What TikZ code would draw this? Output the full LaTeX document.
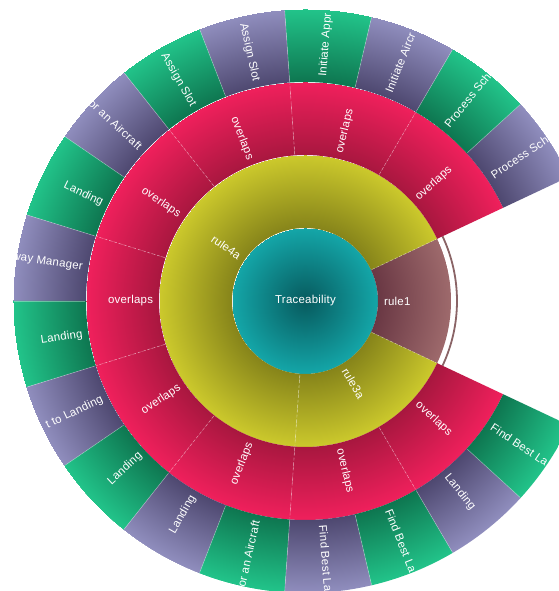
\documentclass[tikz,border=0pt]{standalone}
\usepackage{fontspec}
\setmainfont{Liberation Sans}[LetterSpace=2]
\definecolor{tealD}{HTML}{075A5E}
\definecolor{tealL}{HTML}{14A6A8}
\definecolor{yelD}{HTML}{86841A}
\definecolor{yelL}{HTML}{CCC92C}
\definecolor{brnD}{HTML}{6A3844}
\definecolor{brnL}{HTML}{9E6A6C}
\definecolor{redD}{HTML}{A8173F}
\definecolor{redL}{HTML}{F0205C}
\definecolor{grnD}{HTML}{0E7650}
\definecolor{grnL}{HTML}{22C48A}
\definecolor{purD}{HTML}{4E4870}
\definecolor{purL}{HTML}{908EBE}
\definecolor{arcBrown}{HTML}{8A6466}
\pgfdeclareradialshading{shTeal}{\pgfpointorigin}{color(0bp)=(tealD); color(73bp)=(tealL)}
\pgfdeclareradialshading{shYel}{\pgfpointorigin}{color(0bp)=(yelD); color(73bp)=(yelD); color(146bp)=(yelL)}
\pgfdeclareradialshading{shBrn}{\pgfpointorigin}{color(0bp)=(brnD); color(73bp)=(brnD); color(146bp)=(brnL)}
\pgfdeclareradialshading{shRed}{\pgfpointorigin}{color(0bp)=(redD); color(146bp)=(redD); color(219bp)=(redL)}
\pgfdeclareradialshading{shGrn}{\pgfpointorigin}{color(0bp)=(grnD); color(219bp)=(grnD); color(292bp)=(grnL)}
\pgfdeclareradialshading{shPur}{\pgfpointorigin}{color(0bp)=(purD); color(219bp)=(purD); color(292bp)=(purL)}
\tikzset{
  lab/.style={text=white, font=\fontsize{11.5}{13}\selectfont, inner sep=0pt, outer sep=0pt},
  sepline/.style={white, opacity=0.35, line width=0.6bp},
  sepdash/.style={white, opacity=0.4, line width=0.6bp, dash pattern=on 3bp off 2bp}
}
% #1 node name, #2 shading, #3 start angle, #4 end angle, #5 inner r, #6 outer r, #7 text
\newcommand\sbseg[7]{%
  \begin{scope}
    \clip ([shift={(#3:#6)}]C) arc[start angle=#3,end angle=#4,radius=#6bp]
      -- ([shift={(#4:#5)}]C) arc[start angle=#4,end angle=#3,radius=#5bp] -- cycle;
    \pgftext[at=\pgfpointanchor{C}{center}]{\pgfuseshading{#2}}%
    \pgfmathsetmacro\sbmid{(#3+#4)/2}%
    \pgfmathsetmacro\sbrad{#5+6}%
    \pgfmathtruncatemacro\sbside{cos(\sbmid)>=0}%
    \ifnum\sbside=1
      \node[lab,anchor=west,rotate=\sbmid] (#1) at ([shift={(\sbmid:\sbrad)}]C) {#7};
    \else
      \pgfmathsetmacro\sbrot{\sbmid-180}%
      \node[lab,anchor=east,rotate=\sbrot] (#1) at ([shift={(\sbmid:\sbrad)}]C) {#7};
    \fi
  \end{scope}}
\begin{document}
\begin{tikzpicture}[x=1bp,y=1bp]
\useasboundingbox (0,0) rectangle (559,591);
\fill[white] (0,0) rectangle (559,591);
\coordinate (C) at (305,290);
\begin{scope}
\clip (0,0) rectangle (559,591);
% centre
\begin{scope}
  \clip (C) circle[radius=73bp];
  \pgftext[at=\pgfpointanchor{C}{center}]{\pgfuseshading{shTeal}}
\end{scope}
\node[lab] (trace) at ([xshift=0.5bp]C) {Traceability};
% ring 1
\sbseg{r1}{shBrn}{-25.2}{25.2}{73}{146}{rule1}
\sbseg{r4a}{shYel}{25.2}{266}{73}{146}{rule4a}
\sbseg{r3a}{shYel}{266}{334.8}{73}{146}{rule3a}
\draw[arcBrown, line width=1.8bp] ([shift={(-25.2:152)}]C) arc[start angle=-25.2,end angle=25.2,radius=152bp];
% ring 2
\sbseg{o1}{shRed}{25.2}{59.6}{146}{219}{overlaps}
\sbseg{o2}{shRed}{59.6}{94}{146}{219}{overlaps}
\sbseg{o3}{shRed}{94}{128.4}{146}{219}{overlaps}
\sbseg{o4}{shRed}{128.4}{162.8}{146}{219}{overlaps}
\sbseg{o5}{shRed}{162.8}{197.2}{146}{219}{overlaps}
\sbseg{o6}{shRed}{197.2}{231.6}{146}{219}{overlaps}
\sbseg{o7}{shRed}{231.6}{266}{146}{219}{overlaps}
\sbseg{o8}{shRed}{266}{300.4}{146}{219}{overlaps}
\sbseg{o9}{shRed}{300.4}{334.8}{146}{219}{overlaps}
% ring 3
\sbseg{l1}{shPur}{25.2}{42.4}{219}{292}{Process Sche}
\sbseg{l2}{shGrn}{42.4}{59.6}{219}{292}{Process Sche}
\sbseg{l3}{shPur}{59.6}{76.8}{219}{292}{Initiate Aircr}
\sbseg{l4}{shGrn}{76.8}{94}{219}{292}{Initiate Appr}
\sbseg{l5}{shPur}{94}{111.2}{219}{292}{Assign Slot}
\sbseg{l6}{shGrn}{111.2}{128.4}{219}{292}{Assign Slot}
\sbseg{l7}{shPur}{128.4}{145.6}{219}{292}{or an Aircraft}
\sbseg{l8}{shGrn}{145.6}{162.8}{219}{292}{Landing}
\sbseg{l9}{shPur}{162.8}{180}{219}{292}{way Manager}
\sbseg{l10}{shGrn}{180}{197.2}{219}{292}{Landing}
\sbseg{l11}{shPur}{197.2}{214.4}{219}{292}{t to Landing}
\sbseg{l12}{shGrn}{214.4}{231.6}{219}{292}{Landing}
\sbseg{l13}{shPur}{231.6}{248.8}{219}{292}{Landing}
\sbseg{l14}{shGrn}{248.8}{266}{219}{292}{or an Aircraft}
\sbseg{l15}{shPur}{266}{283.2}{219}{292}{Find Best La}
\sbseg{l16}{shGrn}{283.2}{300.4}{219}{292}{Find Best La}
\sbseg{l17}{shPur}{300.4}{317.6}{219}{292}{Landing}
\sbseg{l18}{shGrn}{317.6}{334.8}{219}{292}{Find Best La}
% separators
\foreach \a in {-25.2,25.2,266}
  \draw[sepdash] ([shift={(\a:74)}]C) -- ([shift={(\a:145)}]C);
\foreach \a in {59.6,94,128.4,162.8,197.2,231.6,266,300.4}
  \draw[sepdash] ([shift={(\a:147)}]C) -- ([shift={(\a:218)}]C);
\foreach \a in {42.4,59.6,76.8,94,111.2,128.4,145.6,162.8,180,197.2,214.4,231.6,248.8,266,283.2,300.4,317.6}
  \draw[sepline] ([shift={(\a:220)}]C) -- ([shift={(\a:291)}]C);
\end{scope}
\end{tikzpicture}
\end{document}
